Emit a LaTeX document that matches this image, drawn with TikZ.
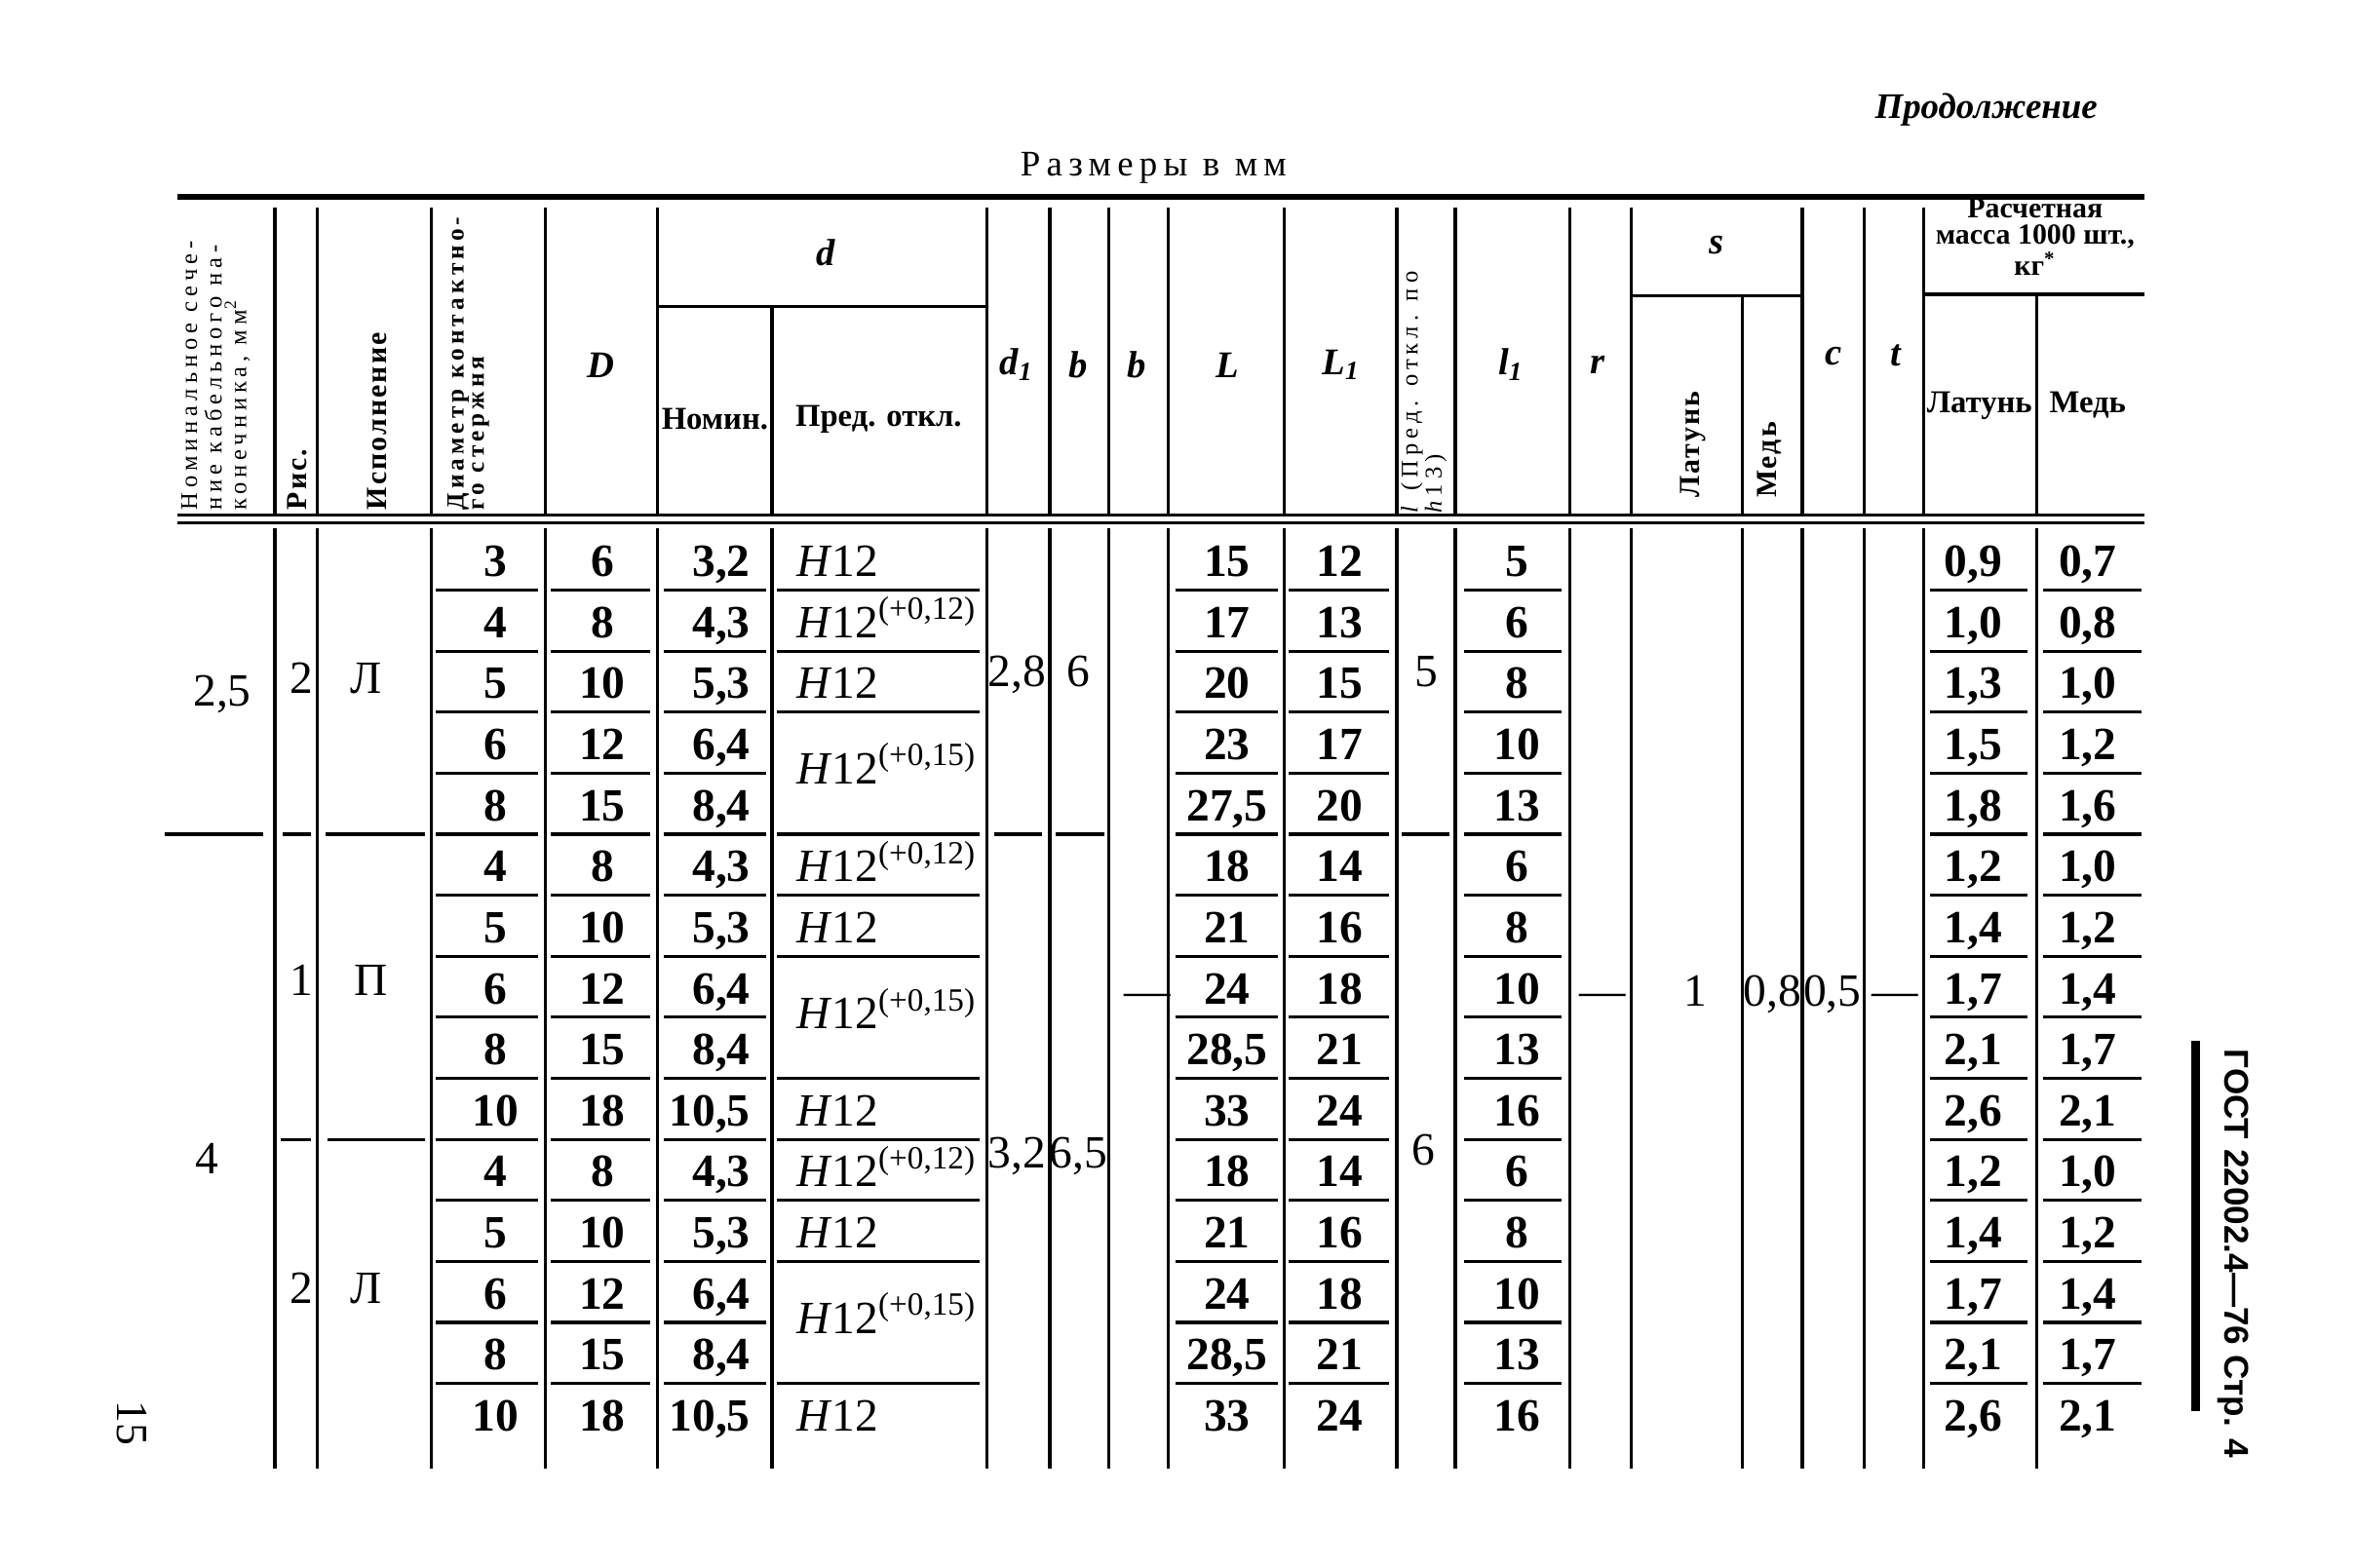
\documentclass[tikz,border=0pt]{standalone}
\usepackage{fontspec}
\setmainfont{Liberation Serif}
\newfontfamily\spacedfont[LetterSpace=7]{Liberation Serif}
\newfontfamily\loosefont[LetterSpace=16]{Liberation Serif}
\newfontfamily\loosestfont[LetterSpace=20]{Liberation Serif}
\newfontfamily\widefont[LetterSpace=17]{Liberation Serif}
\newfontfamily\gostfont{Liberation Sans}
\newcommand{\rowy}[1]{384+40.64*(#1-1)}
\newcommand{\liny}[1]{393+40.64*(#1-1)}
\newcommand{\Hnom}{\textit{H}12}

\begin{document}
\begin{tikzpicture}[x=0.015408cm, y=-0.015408cm]
	\tikzstyle{rule} = [line width=0.9pt]
	\tikzstyle{heavyrule} = [line width=1.5pt]
	\tikzstyle{num} = [inner sep=0pt, anchor=base, font=\fontsize{13.5}{16}\selectfont\bfseries]
	\tikzstyle{val} = [inner sep=0pt, anchor=base, font=\fontsize{13.5}{16}\selectfont]
	\tikzstyle{tol} = [inner sep=0pt, anchor=base west, font=\fontsize{13.5}{16}\selectfont]
	\tikzstyle{vhead} = [inner sep=0pt, anchor=west, rotate=90, font=\spacedfont\fontsize{8.5}{8}\selectfont\bfseries]
	\tikzstyle{vpair} = [inner sep=0pt, anchor=west, rotate=90, font=\loosefont\fontsize{7.2}{7}\selectfont\bfseries]
	\tikzstyle{vthin} = [inner sep=0pt, anchor=west, rotate=90, font=\loosestfont\fontsize{7}{7}\selectfont]
	\tikzstyle{hhead} = [inner sep=0pt, align=center, font=\fontsize{9.3}{8}\selectfont\bfseries]
	\tikzstyle{sym} = [inner sep=0pt, font=\fontsize{11}{13}\selectfont\bfseries\itshape]

	\useasboundingbox (0,0) rectangle (1568,1044);

	\path
	node[anchor=east, inner sep=0pt, font=\fontsize{10.5}{13}\selectfont\bfseries\itshape] (cont) at (1397,73) {Продолжение}
	node[inner sep=0pt, font=\widefont\fontsize{10.5}{12}\selectfont] (units) at (768,112) {Размеры в мм}
	node[rotate=-90, font=\gostfont\fontsize{10}{12}\selectfont\bfseries] (gost) at (1487,835) {ГОСТ 22002.4—76 Стр. 4}
	node[rotate=-90, font=\fontsize{13}{15}\selectfont] (page) at (88,948) {15};
	\draw[line width=2.5pt] (1462,693) -- (1462,940);

	\draw[heavyrule] (118,131) -- (1428,131);
	\draw[rule] (118,343) -- (1428,343);
	\draw[rule] (118,348) -- (1428,348);
	\foreach \x in {183,211,287,363,438,657,699,738,778,855,930,969,1045,1086,1200,1241,1281}
		\draw[rule] (\x,138) -- (\x,343);
	\draw[rule] (438,204) -- (657,204);
	\draw[rule] (514,204) -- (514,343);
	\draw[rule] (1086,197) -- (1200,197);
	\draw[rule] (1160,197) -- (1160,343);
	\draw[rule] (1281,196) -- (1428,196);
	\draw[rule] (1356,196) -- (1356,343);

	\path
	node[vthin] (hsec1) at (126,340) {Номинальное сече-}
	node[vthin] (hsec2) at (142,340) {ние кабельного на-}
	node[vthin] (hsec3) at (158,340) {конечника, мм\textsuperscript{2}}
	node[vhead] (hfig) at (198,340) {Рис.}
	node[vhead] (hexe) at (251,340) {Исполнение}
	node[vpair] (hdia1) at (305,340) {Диаметр контактно-}
	node[vpair] (hdia2) at (320,340) {го стержня}
	node[sym] (hD) at (400,243) {D}
	node[sym] (hd) at (550,168) {d}
	node[hhead] (hnom) at (476,279) {Номин.}
	node[hhead] (hpred) at (585,279) {Пред. откл.}
	node[sym] (hd1) at (677,243) {d\textsubscript{1}}
	node[sym] (hb1) at (718,243) {b}
	node[sym] (hb2) at (757,243) {b}
	node[sym] (hL) at (817,243) {L}
	node[sym] (hL1) at (893,243) {L\textsubscript{1}}
	node[vthin] (hla) at (940,342) {\textit{l} (Пред. откл. по}
	node[vthin] (hlb) at (956,342) {\textit{h}13)}
	node[sym] (hl1) at (1006,243) {l\textsubscript{1}}
	node[sym] (hr) at (1064,243) {r}
	node[sym] (hs) at (1143,163) {s}
	node[vhead] (hslat) at (1127,332) {Латунь}
	node[vhead] (hsmed) at (1178,332) {Медь}
	node[sym] (hc) at (1221,237) {c}
	node[sym] (ht) at (1262,237) {t}
	node[hhead, font=\fontsize{8.5}{7.6}\selectfont\bfseries] (hmass) at (1355,158) {Расчетная\\масса 1000 шт.,\\кг\textsuperscript{*}}
	node[hhead] (hmlat) at (1318,270) {Латунь}
	node[hhead] (hmmed) at (1390,270) {Медь};

	\foreach \x in {183,211,287,363,438,514,657,699,738,778,855,930,969,1045,1086,1160,1200,1241,1281,1356}
		\draw[rule] (\x,352) -- (\x,978);

	\foreach \a/\b in {290/358,367/433,442/510,783/851,858/925,975/1040,1285/1350,1360/1426}
		\foreach \i in {1,...,14}
			\draw[rule] (\a,{\liny{\i}}) -- (\b,{\liny{\i}});
	\foreach \i in {1,2,3,5,6,7,9,10,11,12,14}
		\draw[rule] (517,{\liny{\i}}) -- (652,{\liny{\i}});
	\foreach \a/\b in {110/175,188/207,217/283,662/694,703/735,933/965}
		\draw[rule] (\a,{\liny{5}}) -- (\b,{\liny{5}});
	\foreach \a/\b in {187/207,218/283}
		\draw[rule] (\a,{\liny{10}}) -- (\b,{\liny{10}});

	\foreach \v [count=\i] in {3,4,5,6,8,4,5,6,8,10,4,5,6,8,10}
		\node[num] (dia\i) at (330,{\rowy{\i}}) {\v};
	\foreach \v [count=\i] in {6,8,10,12,15,8,10,12,15,18,8,10,12,15,18}
		\node[num] (dd\i) at (401,{\rowy{\i}}) {\v};
	\foreach \v [count=\i] in {{3,2},{4,3},{5,3},{6,4},{8,4},{4,3},{5,3},{6,4},{8,4},{10,5},{4,3},{5,3},{6,4},{8,4},{10,5}}
		\node[num, anchor=base east] (nom\i) at (500,{\rowy{\i}}) {\v};
	\foreach \v [count=\i] in {15,17,20,23,{27,5},18,21,24,{28,5},33,18,21,24,{28,5},33}
		\node[num] (len\i) at (817,{\rowy{\i}}) {\v};
	\foreach \v [count=\i] in {12,13,15,17,20,14,16,18,21,24,14,16,18,21,24}
		\node[num] (lenb\i) at (892,{\rowy{\i}}) {\v};
	\foreach \v [count=\i] in {5,6,8,10,13,6,8,10,13,16,6,8,10,13,16}
		\node[num] (lone\i) at (1010,{\rowy{\i}}) {\v};
	\foreach \v [count=\i] in {{0,9},{1,0},{1,3},{1,5},{1,8},{1,2},{1,4},{1,7},{2,1},{2,6},{1,2},{1,4},{1,7},{2,1},{2,6}}
		\node[num] (mlat\i) at (1314,{\rowy{\i}}) {\v};
	\foreach \v [count=\i] in {{0,7},{0,8},{1,0},{1,2},{1,6},{1,0},{1,2},{1,4},{1,7},{2,1},{1,0},{1,2},{1,4},{1,7},{2,1}}
		\node[num] (mmed\i) at (1390,{\rowy{\i}}) {\v};

	\path
	node[tol] (tol1) at (530,{\rowy{1}}) {\Hnom}
	node[tol] (tol2) at (530,{\rowy{2}}) {\Hnom\textsuperscript{(+0,12)}}
	node[tol] (tol3) at (530,{\rowy{3}}) {\Hnom}
	node[tol] (tol4) at (530,522) {\Hnom\textsuperscript{(+0,15)}}
	node[tol] (tol6) at (530,{\rowy{6}}) {\Hnom\textsuperscript{(+0,12)}}
	node[tol] (tol7) at (530,{\rowy{7}}) {\Hnom}
	node[tol] (tol8) at (530,685) {\Hnom\textsuperscript{(+0,15)}}
	node[tol] (tol10) at (530,{\rowy{10}}) {\Hnom}
	node[tol] (tol11) at (530,{\rowy{11}}) {\Hnom\textsuperscript{(+0,12)}}
	node[tol] (tol12) at (530,{\rowy{12}}) {\Hnom}
	node[tol] (tol13) at (530,888) {\Hnom\textsuperscript{(+0,15)}}
	node[tol] (tol15) at (530,{\rowy{15}}) {\Hnom};

	\path
	node[val] (sec25) at (148,470) {2,5}
	node[val] (sec4) at (138,782) {4}
	node[val] (fig2a) at (201,462) {2}
	node[val] (fig1) at (201,663) {1}
	node[val] (fig2b) at (201,868) {2}
	node[val] (exe1) at (244,462) {Л}
	node[val] (exe2) at (247,663) {П}
	node[val] (exe3) at (244,868) {Л}
	node[val] (done1) at (677,457) {2,8}
	node[val] (done2) at (677,778) {3,2}
	node[val] (bone1) at (718,457) {6}
	node[val] (bone2) at (718,778) {6,5}
	node[val] (bdash) at (764,670) {—}
	node[val] (lval1) at (950,457) {5}
	node[val] (lval2) at (948,776) {6}
	node[val] (rdash) at (1067,670) {—}
	node[val] (slat) at (1129,670) {1}
	node[val] (smed) at (1180,670) {0,8}
	node[val] (cval) at (1220,670) {0,5}
	node[val] (tdash) at (1262,670) {—};
\end{tikzpicture}
\end{document}
